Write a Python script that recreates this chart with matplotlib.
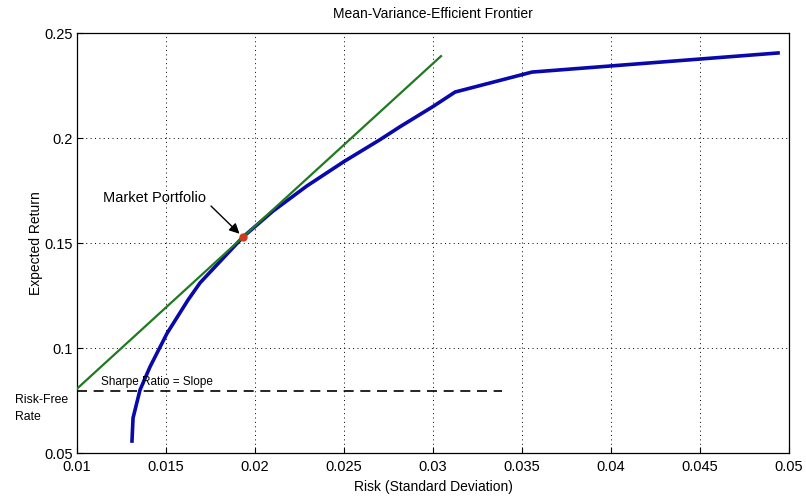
import numpy as np
import matplotlib
matplotlib.use("Agg")
import matplotlib.pyplot as plt


# ------------------------------------------------------------
# Data
# ------------------------------------------------------------

frontier_risk = [0.01309, 0.01315, 0.01354, 0.01410, 0.01506, 0.01624,
                 0.01691, 0.01933, 0.02101, 0.02292, 0.02500, 0.02702,
                 0.02815, 0.03000, 0.03124, 0.03556, 0.04938]
frontier_return = [0.0557, 0.0667, 0.0800, 0.0910, 0.1070, 0.1229,
                   0.1310, 0.1529, 0.1652, 0.1772, 0.1888, 0.1992,
                   0.2054, 0.2150, 0.2219, 0.2314, 0.2405]

cml_risk = [0.0100, 0.03045]
cml_return = [0.0806, 0.2390]

risk_free = 0.0795
rf_line_end = 0.0339

market_risk = 0.01933
market_return = 0.1529

x_ticks = [0.01, 0.015, 0.02, 0.025, 0.03, 0.035, 0.04, 0.045, 0.05]
x_tick_labels = ["0.01", "0.015", "0.02", "0.025", "0.03", "0.035", "0.04", "0.045", "0.05"]
y_ticks = [0.05, 0.1, 0.15, 0.2, 0.25]
y_tick_labels = ["0.05", "0.1", "0.15", "0.2", "0.25"]


# ------------------------------------------------------------
# Plot
# ------------------------------------------------------------

plt.rcParams.update({
    "font.family": ["Liberation Sans", "DejaVu Sans"],
    "font.size": 10,
})

fig = plt.figure(figsize=(8.06, 5.01), dpi=100)
ax = fig.add_axes([0.0955, 0.0958, 0.8835, 0.8383])

ax.plot(frontier_risk, frontier_return, color="#0808ac", linewidth=2.6,
        solid_joinstyle="round", zorder=3)
ax.plot(cml_risk, cml_return, color="#1f7a1f", linewidth=1.6, zorder=4)
ax.plot([x_ticks[0], rf_line_end], [risk_free, risk_free], color="black",
        linewidth=1.2, linestyle=(0, (6, 4)), zorder=2)
ax.plot([market_risk], [market_return], marker="o", markersize=5,
        color="#d03a1c", markeredgecolor="#d03a1c", zorder=5)

ax.annotate("", xy=(market_risk - 0.0002, market_return + 0.0015),
            xytext=(0.01753, 0.1676),
            arrowprops=dict(arrowstyle="-|>", color="black", lw=1.0,
                            mutation_scale=15, shrinkA=0, shrinkB=0),
            zorder=6)
ax.text(0.01146, 0.1714, "Market Portfolio", fontsize=10.5,
        ha="left", va="center")
ax.text(0.01135, 0.0840, "Sharpe Ratio = Slope", fontsize=8.5,
        ha="left", va="center")
ax.text(0.00652, 0.0712, "Risk-Free\nRate", fontsize=8.8,
        ha="left", va="center", linespacing=1.45, clip_on=False)

ax.set_xlim(0.01, 0.05)
ax.set_ylim(0.05, 0.25)
ax.set_xticks(x_ticks)
ax.set_xticklabels(x_tick_labels, fontsize=10.5)
ax.set_yticks(y_ticks)
ax.set_yticklabels(y_tick_labels, fontsize=10.5)
ax.tick_params(direction="in", length=4, width=0.8)
ax.tick_params(axis="x", pad=5)
ax.tick_params(axis="y", pad=3)

ax.grid(True, color="black", linestyle=(0, (1, 3.5)), linewidth=0.7)
for sp in ax.spines.values():
    sp.set_linewidth(0.9)

ax.set_title("Mean-Variance-Efficient Frontier", fontsize=10, pad=11)
ax.set_xlabel("Risk (Standard Deviation)", fontsize=10, labelpad=4)
ax.set_ylabel("Expected Return", fontsize=10, labelpad=1)

fig.savefig("out.png", dpi=100)
